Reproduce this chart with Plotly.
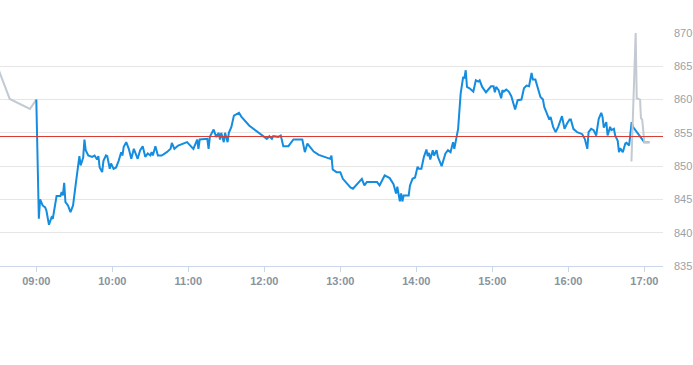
import plotly.graph_objects as go

DAY = "2024-01-02"

# Pre-market (grey) series
pre_times = ["08:30", "08:39", "08:55", "09:00"]
pre_values = [864.6, 860.1, 858.6, 860.0]

# Regular session (blue) series
blue_times = [
    "09:00", "09:02", "09:03", "09:05", "09:07", "09:08", "09:10", "09:12", "09:13", "09:16",
    "09:19", "09:20", "09:21", "09:22", "09:23", "09:25", "09:27", "09:28", "09:29", "09:31",
    "09:32", "09:34", "09:35", "09:37", "09:38", "09:39", "09:41", "09:44", "09:46", "09:48",
    "09:49", "09:50", "09:52", "09:53", "09:55", "09:56", "09:58", "09:59", "10:01", "10:03",
    "10:05", "10:07", "10:08", "10:09", "10:11", "10:13", "10:15", "10:17", "10:19", "10:20",
    "10:22", "10:24", "10:26", "10:28", "10:30", "10:31", "10:32", "10:34", "10:36", "10:39",
    "10:43", "10:46", "10:47", "10:49", "10:52", "10:59", "11:04", "11:07", "11:08", "11:09",
    "11:15", "11:16", "11:17", "11:20", "11:22", "11:24", "11:25", "11:26", "11:28", "11:29",
    "11:31", "11:32", "11:34", "11:36", "11:40", "11:42", "11:48", "11:55", "11:59", "12:02",
    "12:04", "12:06", "12:07", "12:11", "12:13", "12:15", "12:19", "12:23", "12:30", "12:32",
    "12:34", "12:39", "12:43", "12:48", "12:52", "12:53", "12:54", "12:57", "13:00", "13:02",
    "13:08", "13:10", "13:13", "13:17", "13:19", "13:21", "13:29", "13:31", "13:35", "13:39",
    "13:42", "13:44", "13:45", "13:47", "13:48", "13:49", "13:50", "13:54", "13:55", "13:57",
    "13:59", "14:01", "14:02", "14:04", "14:06", "14:08", "14:09", "14:10", "14:11", "14:13",
    "14:14", "14:16", "14:17", "14:20", "14:23", "14:25", "14:27", "14:29", "14:30", "14:31",
    "14:33", "14:35", "14:37", "14:38", "14:39", "14:40", "14:42", "14:45", "14:47", "14:49",
    "14:50", "14:52", "14:55", "14:59", "15:01", "15:02", "15:03", "15:05", "15:07", "15:08",
    "15:09", "15:11", "15:13", "15:15", "15:18", "15:20", "15:23", "15:25", "15:27", "15:29",
    "15:31", "15:32", "15:34", "15:38", "15:40", "15:41", "15:44", "15:45", "15:46", "15:48",
    "15:50", "15:52", "15:55", "15:57", "15:59", "16:01", "16:02", "16:04", "16:07", "16:11",
    "16:13", "16:15", "16:16", "16:18", "16:20", "16:22", "16:24", "16:26", "16:27", "16:28",
    "16:30", "16:31", "16:33", "16:34", "16:36", "16:37", "16:39", "16:40", "16:41", "16:43",
    "16:45", "16:46", "16:48", "16:50", "16:51", "16:55", "16:58", "17:00", "17:04",
]
blue_values = [
    860.0, 842.1, 845.0, 844.1, 843.8, 843.3, 841.2, 842.3, 842.1, 845.5,
    845.5, 846.1, 845.6, 847.5, 844.6, 844.1, 843.1, 843.8, 844.1, 847.1,
    848.4, 851.5, 850.1, 851.3, 854.0, 852.4, 851.6, 851.4, 851.6, 851.0,
    851.5, 849.8, 849.1, 850.8, 851.6, 851.5, 849.6, 850.4, 849.6, 849.8,
    850.8, 852.1, 851.6, 852.9, 853.6, 852.6, 851.1, 852.6, 851.6, 851.1,
    852.4, 853.0, 851.4, 851.9, 851.6, 852.1, 851.6, 853.0, 851.6, 851.6,
    852.1, 852.6, 853.5, 852.6, 853.1, 853.6, 852.6, 854.0, 852.6, 854.0,
    854.1, 852.6, 854.4, 855.5, 854.4, 855.0, 854.0, 855.0, 853.6, 855.0,
    853.6, 855.0, 855.9, 857.6, 858.0, 857.4, 856.1, 855.1, 854.5, 854.1,
    854.5, 854.1, 854.5, 854.4, 854.6, 853.0, 853.0, 854.0, 854.0, 852.1,
    853.4, 852.2, 851.7, 851.3, 851.1, 851.6, 849.5, 849.1, 849.1, 848.1,
    846.8, 846.6, 847.2, 848.1, 847.1, 847.6, 847.6, 847.1, 848.6, 848.2,
    847.3, 845.9, 846.9, 844.7, 845.9, 844.7, 845.6, 845.6, 847.1, 848.1,
    848.3, 849.9, 849.6, 849.6, 851.4, 852.5, 851.5, 852.0, 851.0, 852.4,
    851.6, 852.4, 851.4, 850.0, 851.9, 852.4, 852.1, 853.6, 852.6, 853.6,
    855.6, 860.9, 863.4, 863.2, 864.4, 861.9, 861.7, 861.2, 862.9, 862.7,
    862.9, 861.9, 861.1, 862.0, 862.0, 861.1, 861.9, 861.4, 860.2, 861.4,
    861.2, 861.5, 861.2, 860.5, 858.5, 859.9, 860.0, 861.7, 862.1, 862.0,
    864.0, 863.0, 863.0, 860.4, 860.0, 858.9, 857.6, 857.0, 857.4, 855.9,
    855.1, 855.9, 857.5, 855.6, 856.4, 857.0, 857.0, 855.6, 855.1, 854.8,
    854.1, 852.6, 855.1, 855.6, 855.4, 854.6, 857.1, 858.0, 857.4, 855.8,
    856.6, 854.6, 855.9, 855.4, 855.6, 854.6, 853.8, 852.1, 852.7, 852.1,
    853.4, 853.5, 853.1, 856.6, 855.9, 854.9, 854.0, 853.6, 853.6,
]

# Post-market (grey) series
post_times = ["16:49:50", "16:53:10", "16:54:00", "16:56:40", "16:57:20", "16:58:20", "17:00:00", "17:04:00"]
post_values = [850.7, 870.0, 860.2, 860.0, 857.2, 857.0, 853.6, 853.6]

# Reference (previous close) level
ref_price = 854.45

# Axis settings
y_ticks = [835, 840, 845, 850, 855, 860, 865, 870]
x_tick_labels = ["09:00", "10:00", "11:00", "12:00", "13:00", "14:00", "15:00", "16:00", "17:00"]
x_range = ["08:31:20", "17:14:45"]

BLUE = "#148de0"
GREY = "#c3cad2"

fig = go.Figure()
fig.add_trace(go.Scatter(
    x=[f"{DAY} {t}" for t in pre_times], y=pre_values, mode="lines",
    line=dict(color=GREY, width=2), hoverinfo="skip", showlegend=False))
fig.add_trace(go.Scatter(
    x=[f"{DAY} {t}" for t in blue_times], y=blue_values, mode="lines",
    line=dict(color=BLUE, width=2), showlegend=False))
fig.add_trace(go.Scatter(
    x=[f"{DAY} {t}" for t in post_times], y=post_values, mode="lines",
    line=dict(color=GREY, width=2), hoverinfo="skip", showlegend=False))

fig.add_shape(type="line", xref="paper", x0=0, x1=1, yref="y", y0=ref_price, y1=ref_price,
              line=dict(color="#d93a30", width=1))

fig.update_layout(
    width=693, height=365,
    margin=dict(l=0, r=30, t=33, b=99, autoexpand=False),
    paper_bgcolor="white", plot_bgcolor="white",
    font=dict(family="Liberation Sans, Arial, sans-serif"),
    xaxis=dict(
        type="date",
        range=[f"{DAY} {x_range[0]}", f"{DAY} {x_range[1]}"],
        tickvals=[f"{DAY} {t}" for t in x_tick_labels],
        ticktext=x_tick_labels,
        showgrid=False, zeroline=False,
        showline=True, linecolor="#ccd6eb", linewidth=1,
        ticks="outside", ticklen=5, tickcolor="#ccd6eb",
        tickfont=dict(size=11, color="#8a939e", weight="bold"),
        automargin=False,
    ),
    yaxis=dict(
        side="right",
        range=[835, 870],
        tickvals=y_ticks,
        showgrid=True, gridcolor="#e6e6e6", gridwidth=1,
        zeroline=False, showline=False, ticks="",
        ticklabelstandoff=10,
        tickfont=dict(size=11, color="#9aa1a9"),
        automargin=False,
    ),
)

fig.write_html("out.html", config={"displayModeBar": False},
               post_script="document.body.style.margin='0';")
